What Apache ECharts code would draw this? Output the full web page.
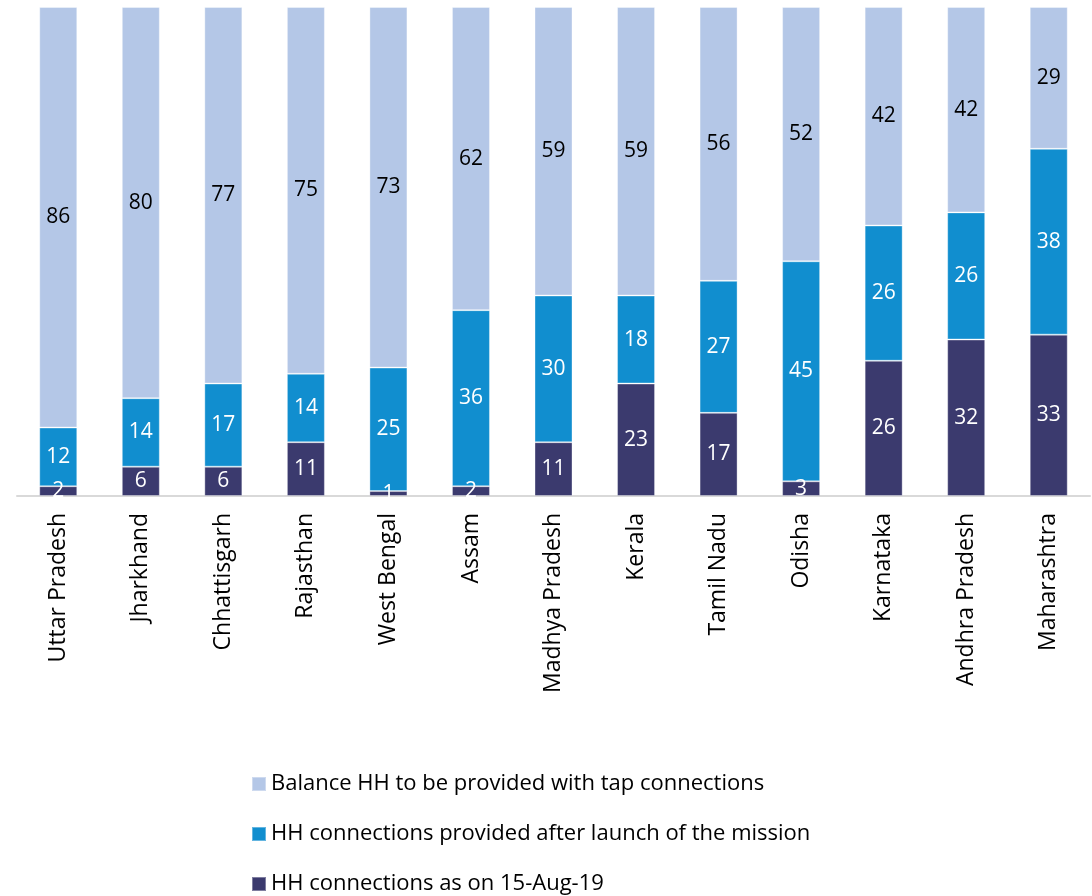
<!DOCTYPE html>
<html>
<head>
<meta charset="utf-8">
<script src="https://cdn.jsdelivr.net/npm/echarts@6/dist/echarts.min.js"></script>
<style>html,body{margin:0;padding:0;background:#fff;}#c{width:1092px;height:896px;}</style>
</head>
<body>
<div id="c"></div>
<script>
const categories = ["Uttar Pradesh","Jharkhand","Chhattisgarh","Rajasthan","West Bengal","Assam","Madhya Pradesh","Kerala","Tamil Nadu","Odisha","Karnataka","Andhra Pradesh","Maharashtra"];
const asOn15Aug19 = [2,6,6,11,1,2,11,23,17,3,26,32,33];
const afterLaunch = [12,14,17,14,25,36,30,18,27,45,26,26,38];
const balance = [86,80,77,75,73,62,59,59,56,52,42,42,29];
const seriesNames = ["HH connections as on 15-Aug-19","HH connections provided after launch of the mission","Balance HH to be provided with tap connections"];
const colors = ["#3B3A6E","#118ECF","#B4C7E7"];
const labelColors = ["#ffffff","#ffffff","#000000"];

const raw = [asOn15Aug19, afterLaunch, balance];
const totals = categories.map((_, i) => raw[0][i] + raw[1][i] + raw[2][i]);

const font = "'Open Sans', 'Liberation Sans', sans-serif";
const series = raw.map((arr, s) => ({
  name: seriesNames[s],
  type: 'bar',
  stack: 'total',
  barWidth: 38,
  itemStyle: { color: colors[s], borderColor: 'rgba(255,255,255,0.35)', borderWidth: 1 },
  label: {
    show: true,
    position: 'inside',
    color: labelColors[s],
    fontFamily: font,
    fontSize: 21,
    formatter: p => String(arr[p.dataIndex])
  },
  data: arr.map((v, i) => v / totals[i] * 100)
}));

const chart = echarts.init(document.getElementById('c'));
chart.setOption({
  animation: false,
  backgroundColor: '#fff',
  grid: { left: 17, right: 2, top: 7, bottom: 400, containLabel: false },
  xAxis: {
    type: 'category',
    data: categories,
    axisTick: { show: false },
    axisLine: { lineStyle: { color: '#D9D9D9', width: 2 } },
    axisLabel: { rotate: 90, color: '#000', fontFamily: font, fontSize: 23, margin: 17, interval: 0 }
  },
  yAxis: { type: 'value', min: 0, max: 100, show: false, splitLine: { show: false } },
  legend: {
    orient: 'vertical',
    left: 246,
    top: 768,
    height: 300,
    itemWidth: 14,
    itemHeight: 14,
    itemGap: 28,
    icon: 'rect',
    data: [seriesNames[2], seriesNames[1], seriesNames[0]],
    textStyle: { color: '#000', fontFamily: font, fontSize: 22 }
  },
  series: series
});
</script>
</body>
</html>
